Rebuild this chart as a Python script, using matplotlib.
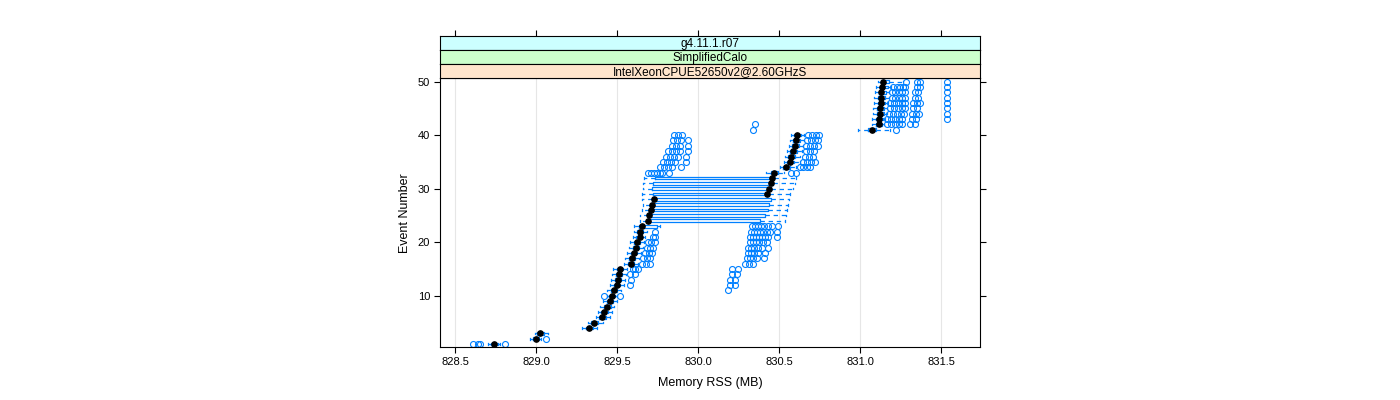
import matplotlib
matplotlib.use("Agg")
import matplotlib.pyplot as plt

plt.rcParams['font.family'] = ['Liberation Sans', 'DejaVu Sans']

# ---------------- data (box statistics per event, MB) ----------------
events = list(range(1, 51))

medians = [828.741, 829.000, 829.025, 829.327, 829.358, 829.407, 829.420, 829.438, 829.457, 829.469,
           829.481, 829.500, 829.506, 829.512, 829.519, 829.586, 829.593, 829.605, 829.617, 829.623,
           829.639, 829.642, 829.652, 829.690, 829.700, 829.708, 829.714, 829.730, 830.426, 830.438,
           830.448, 830.457, 830.471, 830.543, 830.568, 830.574, 830.588, 830.601, 830.605, 830.610,
           831.072, 831.115, 831.119, 831.123, 831.123, 831.128, 831.130, 831.132, 831.136, 831.144]

q1 = [828.722, 828.981, 829.006, 829.309, 829.340, 829.389, 829.401, 829.420, 829.438, 829.451,
      829.463, 829.481, 829.488, 829.494, 829.500, 829.568, 829.574, 829.586, 829.599, 829.605,
      829.620, 829.623, 829.636, 829.684, 829.691, 829.698, 829.704, 829.716, 829.724, 829.718,
      829.724, 829.735, 830.448, 830.525, 830.549, 830.556, 830.568, 830.580, 830.586, 830.590,
      831.049, 831.099, 831.102, 831.105, 831.105, 831.111, 831.111, 831.117, 831.123, 831.130]

q3 = [828.765, 829.019, 829.049, 829.352, 829.383, 829.432, 829.444, 829.463, 829.475, 829.488,
      829.500, 829.519, 829.525, 829.531, 829.537, 829.605, 829.611, 829.623, 829.636, 829.642,
      829.657, 829.660, 829.745, 830.383, 830.414, 830.430, 830.438, 830.449, 830.438, 830.451,
      830.460, 830.469, 830.494, 830.568, 830.593, 830.599, 830.611, 830.623, 830.630, 830.633,
      831.099, 831.136, 831.142, 831.148, 831.148, 831.154, 831.154, 831.160, 831.173, 831.179]

whisker_low = [828.704, 828.963, 828.994, 829.284, 829.321, 829.370, 829.383, 829.395, 829.414, 829.438,
               829.438, 829.457, 829.463, 829.469, 829.475, 829.543, 829.549, 829.562, 829.574, 829.580,
               829.599, 829.605, 829.605, 829.642, 829.642, 829.652, 829.660, 829.652, 829.656, 829.660,
               829.662, 829.668, 830.420, 830.506, 830.531, 830.537, 830.549, 830.562, 830.568, 830.574,
               830.988, 831.074, 831.074, 831.080, 831.080, 831.086, 831.086, 831.093, 831.099, 831.111]

whisker_high = [828.778, 829.031, 829.074, 829.377, 829.414, 829.457, 829.469, 829.481, 829.500, 829.500,
                829.525, 829.543, 829.549, 829.556, 829.562, 829.630, 829.636, 829.648, 829.660, 829.667,
                829.673, 829.685, 829.765, 830.537, 830.543, 830.549, 830.556, 830.562, 830.568, 830.586,
                830.599, 830.605, 830.531, 830.605, 830.630, 830.630, 830.642, 830.648, 830.654, 830.654,
                831.185, 831.148, 831.154, 831.167, 831.167, 831.173, 831.179, 831.179, 831.191, 831.265]

outliers = [
    [828.611, 828.642, 828.654, 828.809],
    [829.062], [], [], [], [], [], [], [],
    [829.420, 829.519],
    [830.183],
    [829.580, 830.198, 830.228],
    [829.586, 830.198, 830.228],
    [829.580, 829.611, 830.208, 830.239],
    [829.597, 829.611, 829.628, 830.208, 830.249],
    [829.654, 829.679, 829.704, 830.290, 830.315, 830.340],
    [829.660, 829.685, 829.704, 830.301, 830.321, 830.340, 830.362, 830.407],
    [829.673, 829.698, 829.716, 830.309, 830.327, 830.346, 830.370, 830.414],
    [829.685, 829.704, 829.722, 830.309, 830.327, 830.346, 830.370, 830.395, 830.432],
    [829.691, 829.710, 829.735, 830.321, 830.340, 830.358, 830.377, 830.401, 830.426],
    [829.722, 829.735, 830.321, 830.340, 830.358, 830.377, 830.395, 830.414, 830.432, 830.488],
    [829.735, 830.327, 830.346, 830.364, 830.383, 830.401, 830.426, 830.444, 830.488],
    [830.333, 830.352, 830.370, 830.389, 830.407, 830.432, 830.457, 830.494],
    [], [], [], [], [], [], [], [], [],
    [829.691, 829.710, 829.728, 829.747, 829.765, 829.778, 829.821, 830.574, 830.605],
    [829.765, 829.790, 829.815, 829.840, 829.895, 830.630, 830.651, 830.673, 830.691],
    [829.784, 829.809, 829.833, 829.858, 829.926, 830.648, 830.673, 830.698, 830.722],
    [829.802, 829.827, 829.852, 829.877, 829.926, 830.660, 830.685, 830.710],
    [829.815, 829.840, 829.864, 829.889, 829.938, 830.667, 830.691, 830.716],
    [829.840, 829.864, 829.889, 829.938, 830.667, 830.691, 830.716, 830.741],
    [829.846, 829.870, 829.895, 829.938, 830.673, 830.698, 830.722, 830.741],
    [829.852, 829.877, 829.901, 830.679, 830.704, 830.728, 830.747],
    [830.340, 831.220],
    [830.352, 831.167, 831.191, 831.216, 831.241, 831.259, 831.309, 831.340],
    [831.167, 831.191, 831.216, 831.241, 831.259, 831.321, 831.346, 831.535],
    [831.179, 831.204, 831.228, 831.253, 831.272, 831.321, 831.346, 831.364, 831.535],
    [831.185, 831.210, 831.235, 831.259, 831.278, 831.327, 831.352, 831.535],
    [831.185, 831.210, 831.235, 831.259, 831.278, 831.327, 831.352, 831.370, 831.535],
    [831.198, 831.216, 831.241, 831.259, 831.278, 831.340, 831.358, 831.535],
    [831.198, 831.216, 831.241, 831.259, 831.278, 831.340, 831.358, 831.535],
    [831.204, 831.228, 831.247, 831.265, 831.278, 831.352, 831.370, 831.535],
    [831.284, 831.350, 831.370, 831.535],
]

strip_labels = ["g4.11.1.r07", "SimplifiedCalo", "IntelXeonCPUE52650v2@2.60GHzS"]
strip_colors = ["#ccffff", "#ccffcc", "#ffe5cc"]
x_ticks = [828.5, 829.0, 829.5, 830.0, 830.5, 831.0, 831.5]
y_ticks = [10, 20, 30, 40, 50]
x_label = "Memory RSS (MB)"
y_label = "Event Number"

BLUE = "#0080ff"
XLIM = (828.409, 831.741)
YLIM = (0.4, 50.6)

# ---------------- figure ----------------
fig = plt.figure(figsize=(14, 4), dpi=100)
L, W = 0.3145, 0.3855
B, H = 0.13175, 0.6725
SH = 0.035
ax = fig.add_axes([L, B, W, H])

stats = [dict(med=m, q1=a, q3=b, whislo=lo, whishi=hi, fliers=f)
         for m, a, b, lo, hi, f in zip(medians, q1, q3, whisker_low, whisker_high, outliers)]

ax.bxp(stats, positions=events, widths=0.5, orientation='horizontal',
       showfliers=True, manage_ticks=False, capwidths=0.3,
       boxprops=dict(color=BLUE, lw=0.9),
       whiskerprops=dict(color=BLUE, lw=0.9, linestyle=(0, (3.5, 3))),
       capprops=dict(color=BLUE, lw=0.9),
       medianprops=dict(linestyle='none'),
       flierprops=dict(marker='o', markerfacecolor='none', markeredgecolor=BLUE,
                       markersize=4.3, markeredgewidth=0.8, linestyle='none'))
ax.plot(medians, events, 'o', color='black', markersize=3.8, zorder=5)

ax.set_xlim(*XLIM)
ax.set_ylim(*YLIM)
ax.set_xticks(x_ticks)
ax.set_xticklabels([f"{t:.1f}" for t in x_ticks])
ax.set_yticks(y_ticks)
ax.grid(axis='x', color='#e6e6e6', lw=0.8)
ax.set_axisbelow(True)
ax.tick_params(axis='both', direction='out', length=4.3, width=0.8, labelsize=8, pad=3,
               colors='black')
ax.tick_params(axis='y', right=True, length=4.3)
for s in ax.spines.values():
    s.set_linewidth(0.8)
ax.set_xlabel(x_label, fontsize=9, labelpad=7)
ax.set_ylabel(y_label, fontsize=9, labelpad=5)

# strips (top to bottom)
for i, (lab, col) in enumerate(zip(strip_labels, strip_colors)):
    sax = fig.add_axes([L, B + H + SH * (2 - i), W, SH])
    sax.set_facecolor(col)
    sax.set_xlim(*XLIM)
    sax.set_yticks([])
    for s in sax.spines.values():
        s.set_linewidth(0.8)
    sax.text(0.5, 0.45, lab, transform=sax.transAxes, ha='center', va='center', fontsize=8.5)
    if i == 0:
        sax.set_xticks(x_ticks)
        sax.tick_params(axis='x', top=True, bottom=False, labeltop=False, labelbottom=False,
                        direction='out', length=4.3, width=0.8)
    else:
        sax.set_xticks([])

fig.savefig("out.png", dpi=100)
